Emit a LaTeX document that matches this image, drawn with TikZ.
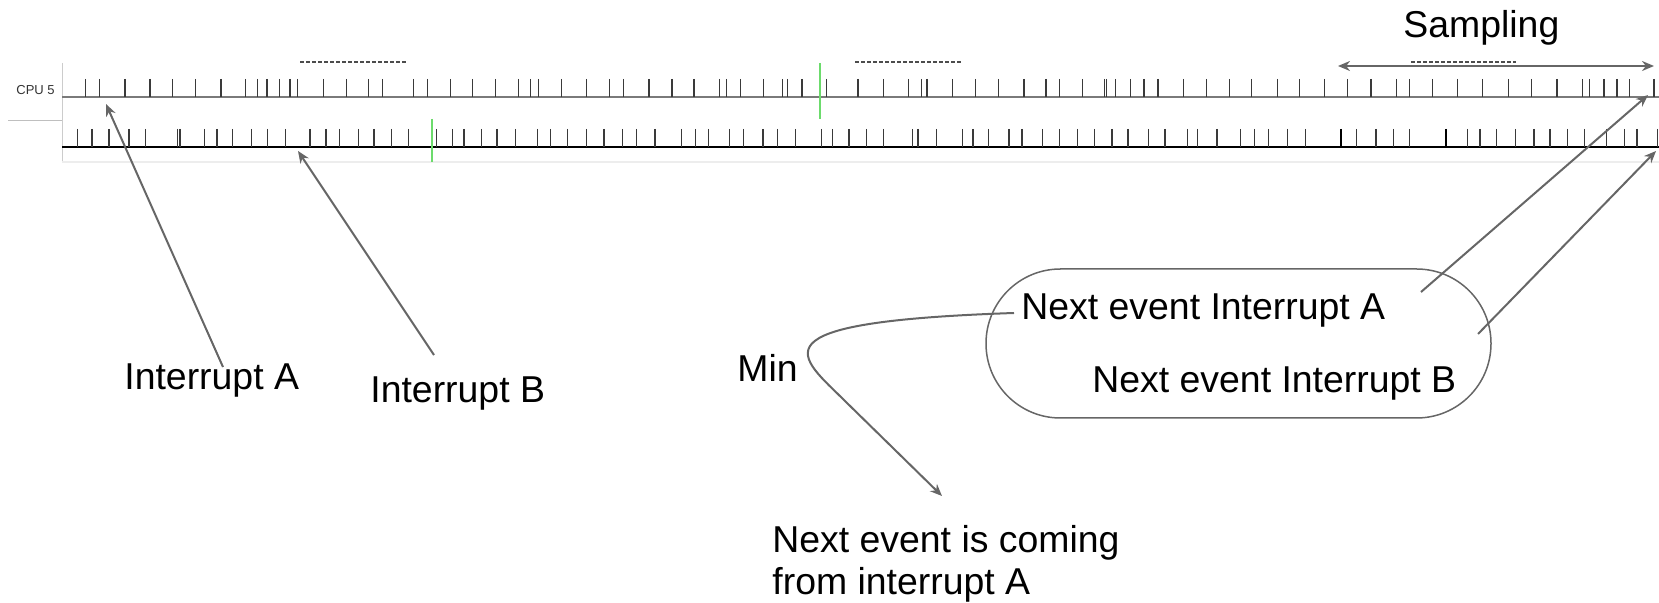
\documentclass[tikz,border=0pt]{standalone}
\usepackage{fontspec}
\setmainfont{Liberation Sans}
\usetikzlibrary{arrows.meta}
\definecolor{arrowgray}{HTML}{666666}
\definecolor{tickgray}{HTML}{3A3A3A}
\definecolor{railgray}{HTML}{7A7A7A}
\definecolor{markgreen}{HTML}{6CDB6C}
\tikzset{
  lbl/.style={anchor=base west, inner sep=0pt, font=\fontsize{18.7}{21}\selectfont},
  pointer/.style={draw=arrowgray, line width=1pt, -{Stealth[length=6pt,width=5pt]}},
  tickline/.style={draw=tickgray, line width=0.6pt},
  stamp/.style={draw=black!70, line width=0.9pt, dash pattern=on 2pt off 1pt},
}
\begin{document}
\begin{tikzpicture}[x=0.5pt,y=-0.5pt]
\path[use as bounding box] (0,0) rectangle (1659,603);

% frame of the trace view
\draw[black!20, line width=0.5pt] (62,63) -- (62,162);
\draw[black!25, line width=0.5pt] (8,121) -- (62,121);
\draw[black!7, line width=0.8pt] (62,162) -- (1659,162);
\node[anchor=base west, inner sep=0pt, text=black!80, font=\fontsize{6.5}{8}\selectfont] (cpu) at (16,95) {CPU 5};

% time stamps above the first row
\draw[stamp] (300,62) -- (407,62);
\draw[stamp] (855,62) -- (963,62);
\draw[stamp] (1411,62) -- (1516,62);

% first row of events
\draw[railgray, line width=1pt] (62,97.5) -- (1659,97.5);
\foreach \t in {85.7,99.3,125,150,172.3,195.3,221,245.7,257.3,267,279.7,290,297.3,323.5,346.7,368.7,382.3,413.3,427.3,450.3,472.7,495.7,518.7,530.7,538.7,561.7,586.5,609.3,623.7,649,672,694,719.7,726.7,740.7,763.7,782.7,787.3,802,826.3,858,883.7,908.7,921.7,927,952.3,975.3,998.3,1024,1046,1059.3,1082.7,1104.7,1106.7,1115.3,1130.3,1144,1158,1183.7,1206.7,1229.3,1251.7,1277.3,1299.3,1324.7,1347.7,1371,1396.3,1409.3,1432.7,1457.3,1482.7,1508.3,1531.7,1557,1582.7,1589.3,1604,1617,1629.3,1654}
  \draw[tickline] (\t,79) -- (\t,97.5);

% second row of events
\draw[black, line width=0.8pt] (62,147) -- (1659,147);
\foreach \t in {77.3,92,109,129,145.3,177.3,180,204.3,217,232.7,251.7,267.7,285.7,310,326,339.3,358.7,374,391.3,408.7,436.7,452.7,464,481.3,497,515.7,537.7,550.3,567.7,586.7,604,622.3,636.7,655,681.7,695.7,708.3,729.3,743.3,763,777.7,795.7,821.3,832.3,849,866.7,883.7,912.7,918,936.7,962.7,973,988.7,1009,1022,1042.7,1059.3,1077.7,1094.7,1112,1128,1148.7,1165,1187.3,1197.7,1217,1240.3,1254.3,1268.3,1287.7,1305.3,1356.3,1376,1393.7,1409.7,1467.7,1480,1496.7,1515.3,1534,1550,1567.3,1584.7,1606.7,1624.3,1637,1657.3}
  \draw[tickline] (\t,129) -- (\t,147);
\foreach \t in {1341.3,1446.3}
  \draw[black, line width=1.1pt] (\t,129) -- (\t,147);

% cursor marks
\draw[markgreen, line width=1pt] (820,63) -- (820,119);
\draw[markgreen, line width=1pt] (432,119) -- (432,162);

% sampling window
\node[lbl] (samp) at (1403,38) {Sampling};
\coordinate (sampL) at (1338,66);
\coordinate (sampR) at (1654,66);
\draw[draw=arrowgray, line width=1pt, {Stealth[length=6pt,width=5pt]}-{Stealth[length=6pt,width=5pt]}] (sampL) -- (sampR);

% interrupt labels
\node[lbl] (ia) at (124,390) {Interrupt A};
\node[lbl] (ib) at (370,403) {Interrupt B};
\coordinate (tipA) at (106,104);
\coordinate (tailA) at (223,367);
\coordinate (tipB) at (298,151);
\coordinate (tailB) at (434,355);
\draw[pointer] (tailA) -- (tipA);
\draw[pointer] (tailB) -- (tipB);

% next-event box
\node[draw=arrowgray, line width=0.75pt, minimum width=252.5pt, minimum height=74.5pt,
      rounded corners=37.2pt, inner sep=0pt] (box) at (1238.5,343.5) {};
\node[lbl] (nea) at (1021,320) {Next event Interrupt A};
\node[lbl] (neb) at (1092,393) {Next event Interrupt B};
\coordinate (tailNA) at (1421,292);
\coordinate (tipNA) at (1648,95);
\coordinate (tailNB) at (1478,334);
\coordinate (tipNB) at (1656,151);
\draw[pointer] (tailNA) -- (tipNA);
\draw[pointer] (tailNB) -- (tipNB);

% minimum selection
\node[lbl] (minlbl) at (737,382) {Min};
\coordinate (minS) at (1014,313);
\coordinate (minK) at (846,402);
\coordinate (minE) at (942,496);
\draw[pointer] (minS) .. controls (745,322) and (800,356) .. (minK) -- (minE);

\node[lbl, align=left] (result) at (772,595) {Next event is coming\\from interrupt A};
\end{tikzpicture}
\end{document}
